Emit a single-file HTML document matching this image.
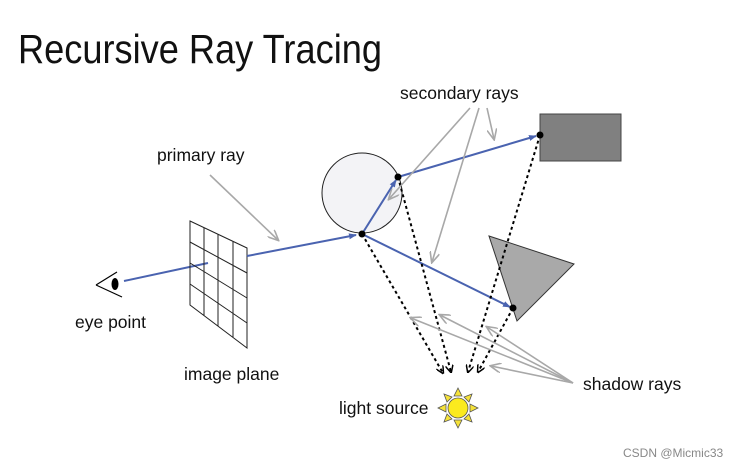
<!DOCTYPE html>
<html><head><meta charset="utf-8"><style>
html,body{margin:0;padding:0;background:#fff;}
svg{display:block;}
text{font-family:"Liberation Sans",sans-serif;}
</style></head><body>
<svg width="747" height="467" viewBox="0 0 747 467" xmlns="http://www.w3.org/2000/svg">
<defs>
<marker id="bl" markerWidth="8" markerHeight="8" refX="7" refY="4" orient="auto" markerUnits="userSpaceOnUse"><path d="M0,1 L8,4 L0,7 Z" fill="#4a63b0"/></marker>
<marker id="gr" markerWidth="12" markerHeight="10" refX="10" refY="5" orient="auto" markerUnits="userSpaceOnUse"><path d="M0,0 L11,5 L0,10" fill="none" stroke="#a8a8a8" stroke-width="1.6"/></marker>
<marker id="bk" markerWidth="8" markerHeight="8" refX="7" refY="4" orient="auto" markerUnits="userSpaceOnUse"><path d="M0,0 L8,4 L0,8" fill="none" stroke="#000" stroke-width="1.5"/></marker>
</defs>
<text x="18" y="63" font-size="41" fill="#111" textLength="364" lengthAdjust="spacingAndGlyphs" font-weight="300">Recursive Ray Tracing</text>

<path d="M96,285 L117,272 M96,285 L122,297" stroke="#000" stroke-width="1.2" fill="none"/>
<ellipse cx="115" cy="284" rx="3.5" ry="6" fill="#000"/>
<line x1="124" y1="281" x2="208" y2="263" stroke="#4a63b0" stroke-width="2"/>
<g stroke="#222" stroke-width="1" fill="none">
<path d="M190,221 L247,248 L247,348 L190,305 Z"/>
<line x1="204" y1="228" x2="204" y2="316"/>
<line x1="218" y1="234" x2="218" y2="326"/>
<line x1="233" y1="241" x2="233" y2="337"/>
<line x1="190" y1="242" x2="247" y2="273"/>
<line x1="190" y1="263" x2="247" y2="298"/>
<line x1="190" y1="284" x2="247" y2="323"/>
</g>
<line x1="247" y1="256" x2="356" y2="235" stroke="#4a63b0" stroke-width="2" marker-end="url(#bl)"/>
<circle cx="362" cy="193" r="40" fill="#f3f3f6" stroke="#222" stroke-width="1"/>
<line x1="362" y1="234" x2="396" y2="180" stroke="#4a63b0" stroke-width="2" marker-end="url(#bl)"/>
<line x1="398" y1="177" x2="536" y2="136" stroke="#4a63b0" stroke-width="2" marker-end="url(#bl)"/>
<line x1="362" y1="234" x2="510" y2="307" stroke="#4a63b0" stroke-width="2" marker-end="url(#bl)"/>
<rect x="540" y="114" width="81" height="47" fill="#808080" stroke="#444" stroke-width="1"/>
<path d="M489,236 L574,264 L517,321 Z" fill="#a9a9a9" stroke="#333" stroke-width="1"/>
<g stroke="#000" stroke-width="2" stroke-dasharray="3,3" fill="none">
<line x1="362" y1="234" x2="443" y2="373" marker-end="url(#bk)"/>
<line x1="398" y1="177" x2="451" y2="372" marker-end="url(#bk)"/>
<line x1="540" y1="135" x2="468" y2="372" marker-end="url(#bk)"/>
<line x1="513" y1="308" x2="478" y2="372" marker-end="url(#bk)"/>
</g>
<g fill="#000"><circle cx="362" cy="234" r="3.5"/><circle cx="398" cy="177" r="3.5"/><circle cx="540" cy="135" r="3.5"/><circle cx="513" cy="308" r="3.5"/></g>
<g stroke="#a8a8a8" stroke-width="1.6" fill="none">
<line x1="210" y1="175" x2="278" y2="240" marker-end="url(#gr)"/>
<line x1="470" y1="108" x2="389" y2="199" marker-end="url(#gr)"/>
<line x1="479" y1="108" x2="432" y2="262" marker-end="url(#gr)"/>
<line x1="487" y1="108" x2="494" y2="139" marker-end="url(#gr)"/>
<line x1="573" y1="383" x2="411" y2="318" marker-end="url(#gr)"/>
<line x1="573" y1="383" x2="440" y2="315" marker-end="url(#gr)"/>
<line x1="573" y1="383" x2="487" y2="327" marker-end="url(#gr)"/>
<line x1="573" y1="383" x2="491" y2="366" marker-end="url(#gr)"/>
</g>
<g fill="#f5e23a" stroke="#555" stroke-width="0.8">
<path d="M458,388 L462,396 L454,396 Z"/>
<path d="M458,428 L462,420 L454,420 Z"/>
<path d="M438,408 L446,404 L446,412 Z"/>
<path d="M478,408 L470,404 L470,412 Z"/>
<path d="M444,394 L452,397 L447,402 Z"/>
<path d="M472,394 L464,397 L469,402 Z"/>
<path d="M444,422 L452,419 L447,414 Z"/>
<path d="M472,422 L464,419 L469,414 Z"/>
<circle cx="458" cy="408" r="10" fill="#fbea1e"/>
</g>
<g font-size="17.5" fill="#111">
<text x="157" y="161">primary ray</text>
<text x="400" y="99">secondary rays</text>
<text x="75" y="328">eye point</text>
<text x="184" y="380">image plane</text>
<text x="339" y="414">light source</text>
<text x="583" y="390">shadow rays</text>
</g>
<text x="623" y="457" font-size="12" fill="#888">CSDN @Micmic33</text>
</svg>
</body></html>
